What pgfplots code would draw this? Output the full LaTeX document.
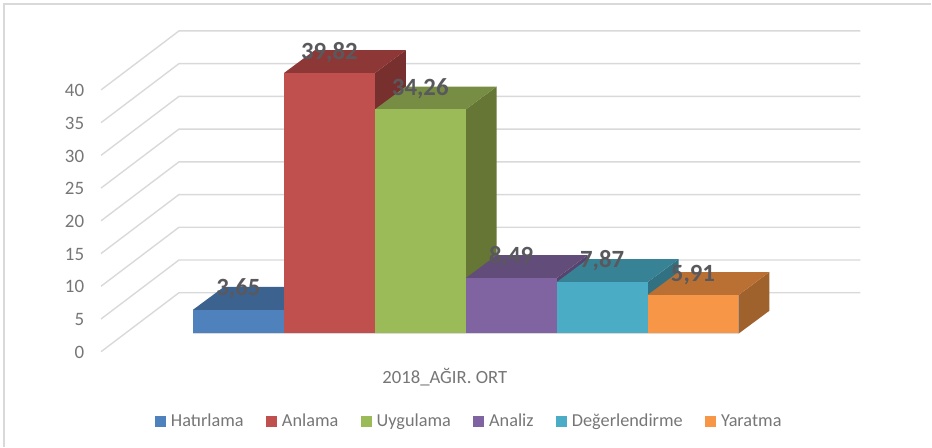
\documentclass[border=0pt]{standalone}
\usepackage{pgfplots}
\pgfplotsset{compat=1.18}
\usepackage{fontspec}
\setmainfont{Carlito}
\definecolor{txt}{RGB}{118,118,118}
\definecolor{lab}{RGB}{89,89,93}
\definecolor{gridc}{RGB}{217,217,217}
\definecolor{af}{RGB}{79,129,189}\definecolor{at}{RGB}{60,98,143}\definecolor{as}{RGB}{52,85,124}
\definecolor{bf}{RGB}{192,80,77}\definecolor{bt}{RGB}{141,56,54}\definecolor{bs}{RGB}{120,48,46}
\definecolor{cf}{RGB}{155,187,89}\definecolor{ct}{RGB}{118,141,67}\definecolor{cs}{RGB}{101,118,53}
\definecolor{df}{RGB}{128,100,162}\definecolor{dt}{RGB}{97,76,122}\definecolor{ds}{RGB}{86,68,110}
\definecolor{ef}{RGB}{75,172,198}\definecolor{et}{RGB}{56,130,150}\definecolor{es}{RGB}{49,113,130}
\definecolor{ff}{RGB}{247,150,70}\definecolor{ft}{RGB}{187,112,51}\definecolor{fs}{RGB}{160,98,45}
\pgfplotsset{
 gl/.style={gridc,line width=1.05pt,forget plot},
 sf/.style={draw=none,fill=#1,forget plot},
}
\tikzset{lb/.style={font=\fontsize{18.6}{20}\selectfont\bfseries,text=lab,inner sep=0pt}}
\begin{document}
\begin{tikzpicture}
\begin{axis}[
 scale only axis,width=699pt,height=335.25pt,
 xmin=-2.121,xmax=8.121,ymin=-17.25,ymax=50.99,
 clip=false,
 axis line style={draw=none},
 xtick=\empty,
 ytick={0,5,10,15,20,25,30,35,40},
 major tick length=0pt,
 /pgf/number format/assume math mode=true,
 yticklabel style={font=\fontsize{14.2}{16}\selectfont,text=txt,anchor=east,xshift=66.6pt,yshift=-14pt},
 legend columns=6,
 legend style={at={(axis cs:3.044,-13.4)},anchor=center,draw=none,fill=none,
   font=\fontsize{13.7}{15}\selectfont,text=txt,inner sep=0pt,
   /tikz/every even column/.append style={column sep=15pt},
   /tikz/every odd column/.append style={column sep=1.5pt}},
 legend cell align=left,
 legend image code/.code={\fill[#1] (0pt,-4.1pt) rectangle (8.25pt,4.15pt);},
]
% chart frame (top and left edges)
\addplot[gridc,line width=1.05pt,forget plot] coordinates {(-2.077,-17.25)(-2.077,50.38)(8.121,50.38)};
% gridlines: wall and left side, one per tick value
\addplot[gl] coordinates {(-1.011,-2.75)(-0.154,6.26)(7.34,6.26)};
\addplot[gl] coordinates {(-1.011,2.25)(-0.154,11.26)(7.34,11.26)};
\addplot[gl] coordinates {(-1.011,7.25)(-0.154,16.26)(7.34,16.26)};
\addplot[gl] coordinates {(-1.011,12.25)(-0.154,21.26)(7.34,21.26)};
\addplot[gl] coordinates {(-1.011,17.25)(-0.154,26.26)(7.34,26.26)};
\addplot[gl] coordinates {(-1.011,22.25)(-0.154,31.26)(7.34,31.26)};
\addplot[gl] coordinates {(-1.011,27.25)(-0.154,36.26)(7.34,36.26)};
\addplot[gl] coordinates {(-1.011,32.25)(-0.154,41.26)(7.34,41.26)};
\addplot[gl] coordinates {(-1.011,37.25)(-0.154,46.26)(7.34,46.26)};
% Hatirlama 3.65
\addplot[sf=as] coordinates {(1,0)(1.341,3.51)(1.341,7.16)(1,3.65)} --cycle;
\addplot[sf=at] coordinates {(0,3.65)(1,3.65)(1.341,7.16)(0.341,7.16)} --cycle;
\addplot[draw=none,fill=af] coordinates {(0,0)(1,0)(1,3.65)(0,3.65)} --cycle;
\addlegendentry{Hatırlama}
% Anlama 39.82
\addplot[sf=bs] coordinates {(2,0)(2.341,3.51)(2.341,43.33)(2,39.82)} --cycle;
\addplot[sf=bt] coordinates {(1,39.82)(2,39.82)(2.341,43.33)(1.341,43.33)} --cycle;
\addplot[draw=none,fill=bf] coordinates {(1,0)(2,0)(2,39.82)(1,39.82)} --cycle;
\addlegendentry{Anlama}
% Uygulama 34.26
\addplot[sf=cs] coordinates {(3,0)(3.341,3.51)(3.341,37.77)(3,34.26)} --cycle;
\addplot[sf=ct] coordinates {(2,34.26)(3,34.26)(3.341,37.77)(2.341,37.77)} --cycle;
\addplot[draw=none,fill=cf] coordinates {(2,0)(3,0)(3,34.26)(2,34.26)} --cycle;
\addlegendentry{Uygulama}
% Analiz 8.49
\addplot[sf=ds] coordinates {(4,0)(4.341,3.51)(4.341,12)(4,8.49)} --cycle;
\addplot[sf=dt] coordinates {(3,8.49)(4,8.49)(4.341,12)(3.341,12)} --cycle;
\addplot[draw=none,fill=df] coordinates {(3,0)(4,0)(4,8.49)(3,8.49)} --cycle;
\addlegendentry{Analiz}
% Degerlendirme 7.87
\addplot[sf=es] coordinates {(5,0)(5.341,3.51)(5.341,11.38)(5,7.87)} --cycle;
\addplot[sf=et] coordinates {(4,7.87)(5,7.87)(5.341,11.38)(4.341,11.38)} --cycle;
\addplot[draw=none,fill=ef] coordinates {(4,0)(5,0)(5,7.87)(4,7.87)} --cycle;
\addlegendentry{Değerlendirme}
% Yaratma 5.91
\addplot[sf=fs] coordinates {(6,0)(6.341,3.51)(6.341,9.42)(6,5.91)} --cycle;
\addplot[sf=ft] coordinates {(5,5.91)(6,5.91)(6.341,9.42)(5.341,9.42)} --cycle;
\addplot[draw=none,fill=ff] coordinates {(5,0)(6,0)(6,5.91)(5,5.91)} --cycle;
\addlegendentry{Yaratma}
\addplot[gridc,line width=0.8pt,forget plot] coordinates {(0,0)(6,0)};
% data labels
\node[lb] at (axis cs:0.5,6.86) {3,65};
\node[lb] at (axis cs:1.5,42.9) {39,82};
\node[lb] at (axis cs:2.5,37.4) {34,26};
\node[lb] at (axis cs:3.5,11.8) {8,49};
\node[lb] at (axis cs:4.5,11.1) {7,87};
\node[lb] at (axis cs:5.5,9.0) {5,91};
\node[font=\fontsize{14}{16}\selectfont,text=txt,inner sep=0pt] at (axis cs:2.77,-6.6) {2018\_AĞIR. ORT};
\end{axis}
\end{tikzpicture}
\end{document}
